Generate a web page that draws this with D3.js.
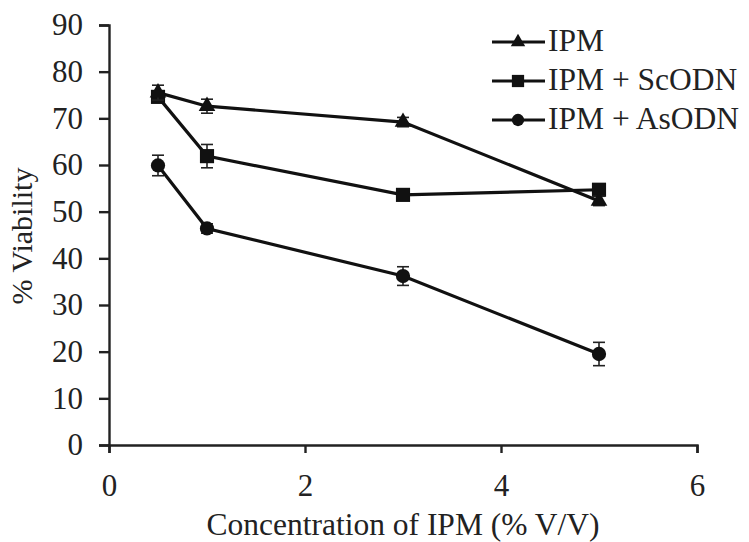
<!DOCTYPE html>
<html>
  <head>
    <script src="https://d3js.org/d3.v7.min.js"></script>
    <style>
      body { margin: 0; background: #fff; }
      text { font-family: "Liberation Serif", "Times New Roman", serif; fill: #222; }
    </style>
  </head>
  <body>
    <svg width="749" height="542"></svg>
    <script>

      // data
      const conc = [0.5, 1, 3, 5];
      const seriesNames = ["IPM", "IPM + ScODN", "IPM + AsODN"];
      const ipm = [75.5, 72.6, 69.2, 52.3];
      const ipmErr = [1.6, 1.5, 1.0, 1.0];
      const scodn = [74.6, 61.9, 53.6, 54.7];
      const scodnErr = [1.2, 2.5, 1.0, 1.0];
      const asodn = [59.9, 46.4, 36.2, 19.5];
      const asodnErr = [2.2, 1.0, 2.0, 2.5];
      const xTicks = [0, 2, 4, 6];
      const yTicks = [0, 10, 20, 30, 40, 50, 60, 70, 80, 90];

      const svg = d3.select("svg");

      const x = d3.scaleLinear().domain([0, 6]).range([109, 697]);
      const y = d3.scaleLinear().domain([0, 90]).range([445, 25]);

      // axes
      svg.append("g")
          .attr("transform", "translate(0,445)")
          .call(d3.axisBottom(x).tickValues(xTicks).tickSize(8).tickPadding(21).tickFormat(d3.format("d")))
          .call(g => g.selectAll("path, line").attr("stroke", "#222").attr("stroke-width", 2.4))
          .call(g => g.selectAll("text").attr("font-size", 31).attr("font-family", null));

      svg.append("g")
          .attr("transform", "translate(109,0)")
          .call(d3.axisLeft(y).tickValues(yTicks).tickSize(10).tickPadding(16))
          .call(g => g.selectAll("path, line").attr("stroke", "#222").attr("stroke-width", 2.4))
          .call(g => g.selectAll("text").attr("font-size", 31).attr("font-family", null));

      // axis titles
      svg.append("text")
          .attr("x", 403)
          .attr("y", 535)
          .attr("text-anchor", "middle")
          .style("font-size", "31.5px")
          .text("Concentration of IPM (% V/V)");

      svg.append("text")
          .attr("transform", "translate(32,236) rotate(-90)")
          .attr("text-anchor", "middle")
          .style("font-size", "30px")
          .text("% Viability");

      const series = [
        {name: seriesNames[0], vals: ipm, err: ipmErr, shape: d3.symbolTriangle, size: 120},
        {name: seriesNames[1], vals: scodn, err: scodnErr, shape: d3.symbolSquare, size: 200},
        {name: seriesNames[2], vals: asodn, err: asodnErr, shape: d3.symbolCircle, size: 160}
      ];

      const line = d3.line()
          .x(d => x(d.c))
          .y(d => y(d.v));

      // draw in reverse so IPM sits on top
      series.slice().reverse().forEach(s => {
        const pts = conc.map((c, i) => ({c: c, v: s.vals[i], e: s.err[i]}));
        const g = svg.append("g");

        // error bars
        const eb = g.selectAll(".eb").data(pts).enter().append("g")
            .attr("stroke", "#222").attr("stroke-width", 1.6);
        eb.append("line")
            .attr("x1", d => x(d.c)).attr("x2", d => x(d.c))
            .attr("y1", d => y(d.v + d.e)).attr("y2", d => y(d.v - d.e));
        eb.append("line")
            .attr("x1", d => x(d.c) - 6).attr("x2", d => x(d.c) + 6)
            .attr("y1", d => y(d.v + d.e)).attr("y2", d => y(d.v + d.e));
        eb.append("line")
            .attr("x1", d => x(d.c) - 6).attr("x2", d => x(d.c) + 6)
            .attr("y1", d => y(d.v - d.e)).attr("y2", d => y(d.v - d.e));

        g.append("path")
            .datum(pts)
            .attr("fill", "none")
            .attr("stroke", "#111")
            .attr("stroke-width", 3.2)
            .attr("d", line);

        g.selectAll(".pt").data(pts).enter().append("path")
            .attr("transform", d => `translate(${x(d.c)},${y(d.v)})`)
            .attr("d", d3.symbol().type(s.shape).size(s.size))
            .attr("fill", "#111");
      });

      // legend
      const legend = svg.append("g");
      series.forEach((s, i) => {
        const ly = 42 + i * 39;
        legend.append("line")
            .attr("x1", 492).attr("x2", 545)
            .attr("y1", ly).attr("y2", ly)
            .attr("stroke", "#111").attr("stroke-width", 3.2);
        legend.append("path")
            .attr("transform", `translate(518,${ly})`)
            .attr("d", d3.symbol().type(s.shape).size(s.size * 0.75))
            .attr("fill", "#111");
        legend.append("text")
            .attr("x", 548)
            .attr("y", ly + 9)
            .style("font-size", "31.5px")
            .text(s.name);
      });

    </script>
  </body>
</html>
